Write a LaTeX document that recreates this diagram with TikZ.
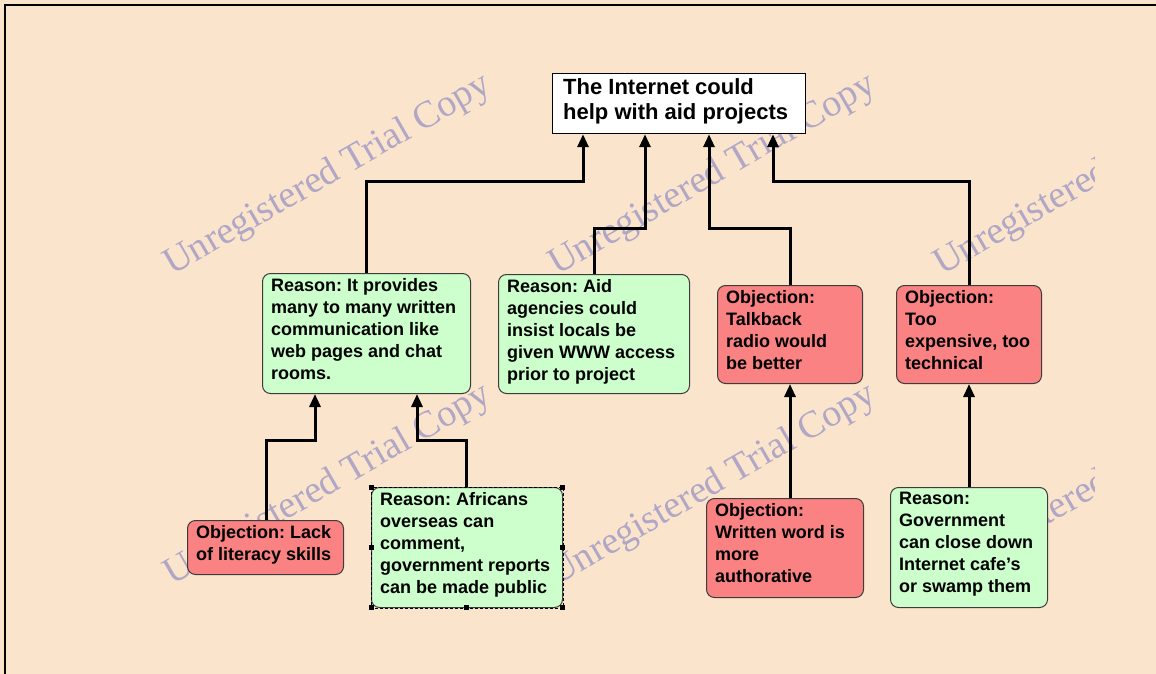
\documentclass[tikz,border=0pt]{standalone}
\usepackage{fontspec}
\setmainfont{Liberation Sans}
\newfontfamily\wmfont{Liberation Serif}
\usetikzlibrary{arrows.meta}
\frenchspacing
\definecolor{bgpeach}{RGB}{251,228,204}
\definecolor{boxgreen}{RGB}{204,255,204}
\definecolor{boxred}{RGB}{250,130,130}
\definecolor{edgegray}{RGB}{60,60,60}
\definecolor{wmcolor}{RGB}{176,166,198}
\tikzset{
  basebox/.style={rectangle, rounded corners=8pt, draw=edgegray, line width=1pt, inner sep=0pt, anchor=north west},
  gbox/.style={basebox, fill=boxgreen},
  rbox/.style={basebox, fill=boxred},
  txt/.style={inner sep=0pt, anchor=north west, align=left, text=black, font=\bfseries\fontsize{18}{22}\selectfont},
  ttxt/.style={inner sep=0pt, anchor=north west, align=left, text=black, font=\bfseries\fontsize{22}{25}\selectfont},
  conn/.style={line width=3pt, draw=black, -{Triangle[width=11pt,length=13pt]}},
  wm/.style={anchor=base west, rotate=30, inner sep=0pt, text=wmcolor, font=\wmfont\fontsize{38}{40}\selectfont}
}
\begin{document}
\begin{tikzpicture}[x=1pt,y=-1pt]
\useasboundingbox (0,0) rectangle (1156,674);
\fill[bgpeach] (0,0) rectangle (1156,674);
\draw[line width=2pt, black] (1156,5) -- (5,5) -- (5,674);
% watermarks
\begin{scope}
\clip (0,0) rectangle (1094,674);
\node[wm] (w1) at (172,276) {Unregistered Trial Copy};
\node[wm] (w2) at (557,276) {Unregistered Trial Copy};
\node[wm] (w3) at (942,276) {Unregistered Trial Copy};
\node[wm] (w4) at (172,586) {Unregistered Trial Copy};
\node[wm] (w5) at (557,586) {Unregistered Trial Copy};
\node[wm] (w6) at (942,586) {Unregistered Trial Copy};
\end{scope}
% boxes
\node[rectangle, draw=black, line width=1.2pt, fill=white, inner sep=0pt, anchor=north west, minimum width=253pt, minimum height=60pt] (top) at (552,73) {};
\node[gbox, minimum width=208pt, minimum height=120pt] (r1) at (262,273) {};
\node[gbox, minimum width=191pt, minimum height=119pt] (r2) at (498,274) {};
\node[rbox, minimum width=145pt, minimum height=98pt] (o1) at (717,285) {};
\node[rbox, minimum width=145pt, minimum height=98pt] (o2) at (896,285) {};
\node[rbox, minimum width=156pt, minimum height=54pt] (o3) at (187,520) {};
\node[gbox, minimum width=191pt, minimum height=120pt] (r3) at (371,487) {};
\node[rbox, minimum width=157pt, minimum height=99pt] (o4) at (706,498) {};
\node[gbox, minimum width=157pt, minimum height=120pt] (r4) at (890,487) {};
% selection frame around r3
\draw[line width=1pt, dash pattern=on 3pt off 2pt] (r3.north west) rectangle (r3.south east);
\foreach \hx/\hy in {371/487, 562/487, 371/547, 562/547, 371/607, 466/607, 562/607}
  \fill[black] (\hx-2.5,\hy-2.5) rectangle (\hx+2.5,\hy+2.5);
% texts
\node[ttxt] (topt) at (563,78) {The Internet could\\help with aid projects};
\node[txt] (r1t) at (271,278) {Reason: It provides\\many to many written\\communication like\\web pages and chat\\rooms.};
\node[txt] (r2t) at (507,279) {Reason: Aid\\agencies could\\insist locals be\\given WWW access\\prior to project};
\node[txt] (o1t) at (726,290) {Objection:\\Talkback\\radio would\\be better};
\node[txt] (o2t) at (905,290) {Objection:\\Too\\expensive, too\\technical};
\node[txt] (o3t) at (196,525) {Objection: Lack\\of literacy skills};
\node[txt] (r3t) at (380,492) {Reason: Africans\\overseas can\\comment,\\government reports\\can be made public};
\node[txt] (o4t) at (715,503) {Objection:\\Written word is\\more\\authorative};
\node[txt] (r4t) at (899,492) {Reason:\\Government\\can close down\\Internet cafe's\\or swamp them};
% connectors
\draw[conn] (366,0 |- r1.north) -- (366,181) -| (583,0 |- top.south);
\draw[conn] (594,0 |- r2.north) -- (594,228) -| (645,0 |- top.south);
\draw[conn] (790,0 |- o1.north) -- (790,228) -| (709,0 |- top.south);
\draw[conn] (969,0 |- o2.north) -- (969,181) -| (773,0 |- top.south);
\draw[conn] (266,0 |- o3.north) -- (266,440) -| (315,0 |- r1.south);
\draw[conn] (466,0 |- r3.north) -- (466,440) -| (417,0 |- r1.south);
\draw[conn] (790,0 |- o4.north) -- (790,0 |- o1.south);
\draw[conn] (969,0 |- r4.north) -- (969,0 |- o2.south);
\end{tikzpicture}
\end{document}
